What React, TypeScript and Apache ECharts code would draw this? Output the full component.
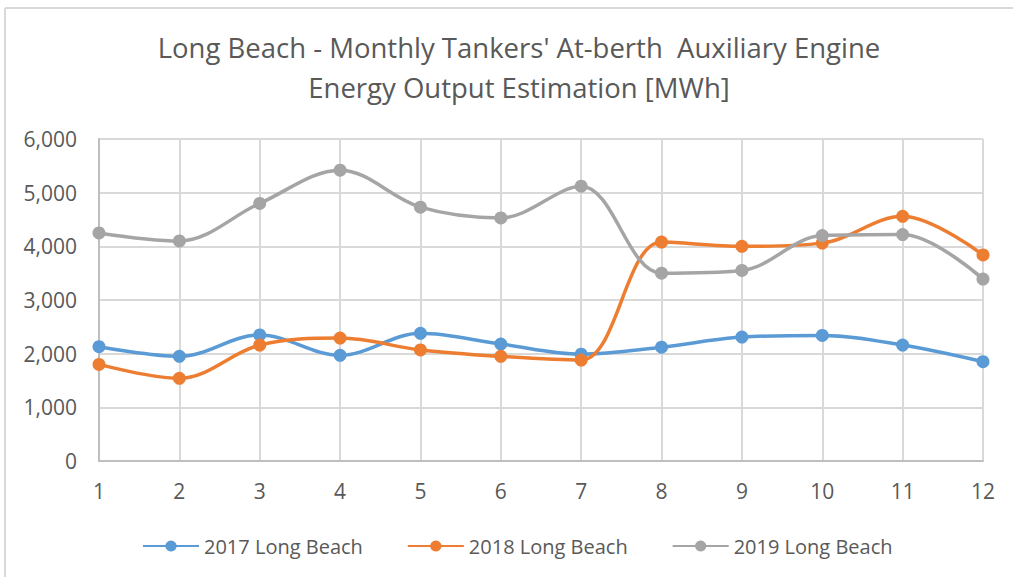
import React, { useEffect, useRef } from "react";
import * as echarts from "echarts";

const months = ["1", "2", "3", "4", "5", "6", "7", "8", "9", "10", "11", "12"];
const s2017 = [2130, 1950, 2350, 1970, 2380, 2180, 1990, 2120, 2310, 2340, 2160, 1850];
const s2018 = [1800, 1540, 2160, 2290, 2070, 1950, 1880, 4080, 4000, 4060, 4560, 3840];
const s2019 = [4250, 4100, 4800, 5420, 4730, 4530, 5120, 3500, 3550, 4200, 4220, 3390];
const seriesNames = ["2017 Long Beach", "2018 Long Beach", "2019 Long Beach"];
const colors = ["#5B9BD5", "#ED7D31", "#A5A5A5"];

const FONT = "'Open Sans', 'Noto Sans', sans-serif";

export default function App() {
  const ref = useRef<HTMLDivElement>(null);
  useEffect(() => {
    if (!ref.current) return;
    const chart = echarts.init(ref.current, undefined, { renderer: "svg" });
    const data = [s2017, s2018, s2019];
    chart.setOption({
      animation: false,
      backgroundColor: "#ffffff",
      title: {
        text: "Long Beach - Monthly Tankers' At-berth  Auxiliary Engine\nEnergy Output Estimation [MWh]",
        left: 514,
        textAlign: "center",
        top: 22,
        textStyle: {
          fontFamily: FONT,
          fontSize: 27.5,
          fontWeight: "normal",
          color: "#595959",
          lineHeight: 40,
        },
      },
      legend: {
        top: 531,
        left: 137,
        itemGap: 44,
        itemWidth: 56,
        itemHeight: 14,
        textStyle: { fontFamily: FONT, fontSize: 20, color: "#595959" },
        data: seriesNames,
      },
      grid: { left: 99, right: 30, top: 139, bottom: 116, containLabel: false },
      xAxis: {
        type: "category",
        data: months,
        boundaryGap: false,
        axisLine: { lineStyle: { color: "#BFBFBF", width: 2 } },
        axisTick: { show: false },
        axisLabel: { fontFamily: FONT, fontSize: 21, color: "#595959", margin: 19 },
        splitLine: { show: true, lineStyle: { color: "#D9D9D9", width: 2 } },
      },
      yAxis: {
        type: "value",
        min: 0,
        max: 6000,
        interval: 1000,
        axisLine: { show: true, lineStyle: { color: "#BFBFBF", width: 2 } },
        axisTick: { show: false },
        axisLabel: {
          fontFamily: FONT,
          fontSize: 21,
          color: "#595959",
          margin: 22,
          formatter: (v: number) => v.toLocaleString("en-US"),
        },
        splitLine: { show: true, lineStyle: { color: "#D9D9D9", width: 2 } },
      },
      graphic: [
        { type: "line", shape: { x1: 5, y1: 8, x2: 1013, y2: 8 }, style: { stroke: "#D9D9D9", lineWidth: 2 } },
        { type: "line", shape: { x1: 5, y1: 8, x2: 5, y2: 577 }, style: { stroke: "#D9D9D9", lineWidth: 2 } },
      ],
      series: seriesNames.map((name, i) => ({
        name,
        type: "line",
        data: data[i],
        smooth: 0.35,
        symbol: "circle",
        symbolSize: 13,
        itemStyle: { color: colors[i] },
        lineStyle: { color: colors[i], width: 3.5 },
      })),
    });
    return () => chart.dispose();
  }, []);
  return <div ref={ref} style={{ position: "absolute", left: 0, top: 0, width: 1013, height: 577 }} />;
}
